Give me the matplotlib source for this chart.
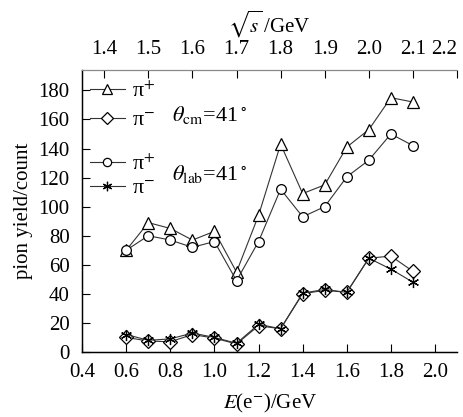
import matplotlib
matplotlib.use('Agg')
import matplotlib.pyplot as plt
import numpy as np

plt.rcParams['font.family'] = ['Liberation Serif', 'DejaVu Serif']
plt.rcParams['mathtext.fontset'] = 'stix'

# beam energy E(e-) in GeV
energy = [0.6, 0.7, 0.8, 0.9, 1.0, 1.1, 1.2, 1.3, 1.4, 1.5, 1.6, 1.7, 1.8, 1.9]
# pion yields
pip_cm = [70, 89, 85, 77, 83, 55, 94, 143, 109, 115, 141, 153, 175, 172]
pim_cm = [10, 7.5, 7, 12, 9.5, 5.5, 18, 16, 40, 42.5, 41, 64.5, 66, 55.5]
pip_lab = [70, 80, 77, 72, 76, 49, 76, 112, 93, 100, 120.5, 132, 150, 142]
pim_lab = [12, 8, 9, 13, 10, 6, 19, 16, 40.5, 43, 41, 64.5, 57, 48]
sqrt_s_labels = ['1.4', '1.5', '1.6', '1.7', '1.8', '1.9', '2.0', '2.1', '2.2']

fig = plt.figure(figsize=(4.64, 4.17), dpi=100)
ax = fig.add_axes([0.177, 0.156, 0.808, 0.676])

lc = '#333333'
style = dict(color=lc, lw=0.8, mfc='white', mec='black', mew=0.9, ms=8)
h1, = ax.plot(energy, pip_cm, marker='^', **style)
h2, = ax.plot(energy, pim_cm, marker='D', **dict(style, ms=7))
h3, = ax.plot(energy, pip_lab, marker='o', **dict(style, ms=7))
h4, = ax.plot(energy, pim_lab, marker=(6, 2, 0), **dict(style, ms=8))

fs = 15
ax.set_xlim(0.4, 2.1)
ax.set_ylim(0, 194)
ax.set_xticks(np.arange(0.4, 2.01, 0.2))
ax.set_xticklabels(['%.1f' % v for v in np.arange(0.4, 2.01, 0.2)])
ax.set_yticks(np.arange(0, 181, 20))
ax.tick_params(direction='in', length=6, width=0.8, labelsize=fs, colors='black')
ax.tick_params(axis='x', pad=8)
ax.tick_params(axis='y', pad=9)
ax.spines['right'].set_visible(False)
for s in ['left', 'bottom']:
    ax.spines[s].set_linewidth(1.0)
ax.spines['top'].set_color('#888888')
ax.set_xlabel(r'$E$(e$^{-}$)/GeV', fontsize=fs, labelpad=7)
ax.set_ylabel('pion yield/count', fontsize=fs, labelpad=4)

top = ax.twiny()
top.set_xlim(ax.get_xlim())
top.set_xticks(np.arange(0.5, 2.11, 0.2))
top.set_xticklabels(sqrt_s_labels)
top.tick_params(direction='in', length=6, width=0.8, labelsize=fs, pad=8)
top.get_xticklabels()[-1].set_horizontalalignment('right')
top.spines['right'].set_visible(False)
top.spines['top'].set_color('#888888')
top.set_xlabel(r'$\sqrt{s}\,$/GeV', fontsize=fs, labelpad=5)

lfs = 16
leg1 = ax.legend([h1, h2], ['π$^{+}$', 'π$^{-}$'], loc='center left',
                 bbox_to_anchor=(0.02, 0.872), frameon=False, fontsize=lfs,
                 handlelength=1.6, handletextpad=0.3, labelspacing=0.35,
                 borderpad=0, borderaxespad=0, markerscale=0.85)
ax.add_artist(leg1)
ax.legend([h3, h4], ['π$^{+}$', 'π$^{-}$'], loc='center left',
          bbox_to_anchor=(0.02, 0.622), frameon=False, fontsize=lfs,
          handlelength=1.6, handletextpad=0.3, labelspacing=0.15,
          borderpad=0, borderaxespad=0, markerscale=0.85)
ax.text(0.24, 0.84, r'$\theta_{\rm cm}$=41$^\circ$', transform=ax.transAxes, fontsize=lfs, va='center')
ax.text(0.24, 0.63, r'$\theta_{\rm lab}$=41$^\circ$', transform=ax.transAxes, fontsize=lfs, va='center')

fig.savefig('out.png', dpi=100)
